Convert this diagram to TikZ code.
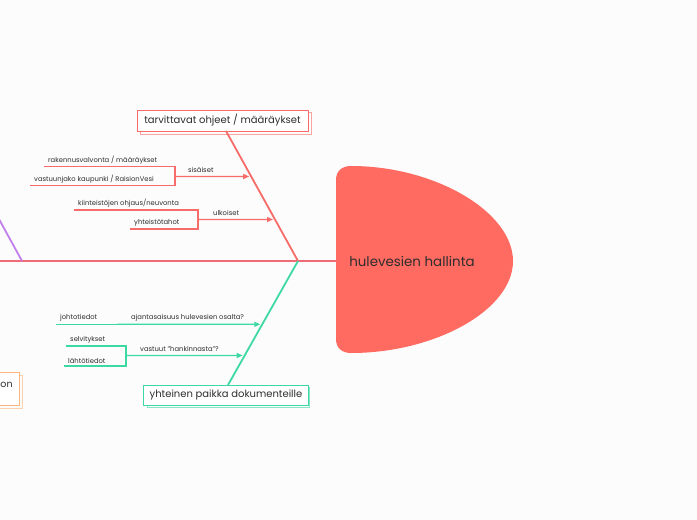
\documentclass[tikz,border=0pt]{standalone}
\usepackage{fontspec}
\setmainfont{Poppins}
\usetikzlibrary{arrows.meta,calc}
\definecolor{bg}{HTML}{FCFCFC}
\definecolor{headred}{HTML}{FF6A61}
\definecolor{spinecol}{HTML}{EF6B76}
\definecolor{redline}{HTML}{F76C68}
\definecolor{greenline}{HTML}{3DD9A2}
\definecolor{purpleline}{HTML}{C07FEA}
\definecolor{orangeline}{HTML}{FFB47E}
\definecolor{txt}{HTML}{2E2E2E}
\tikzset{
  boxnode/.style={draw=#1, line width=1pt, fill=white, text=txt, font=\fontsize{10}{12}\selectfont,
    minimum height=21pt, inner xsep=6pt, inner ysep=0pt, text height=7pt, text depth=2pt},
  shadowbox/.style={draw=#1, line width=1pt, opacity=0.6},
  subtext/.style={text=txt, font=\fontsize{6.8}{8}\selectfont, inner xsep=4pt, inner ysep=2.5pt, anchor=south west},
  lbltext/.style={text=txt, font=\fontsize{6.8}{8}\selectfont, inner sep=0pt, anchor=base west},
  subline/.style={draw=#1, line width=1.3pt},
  arr/.style={draw=#1, line width=1.3pt, -{Triangle[length=6pt,width=5pt]}, shorten >=2pt},
  bone/.style={draw=#1, line width=1.8pt},
}
\begin{document}
\begin{tikzpicture}[x=1pt,y=-1pt]
\fill[bg] (0,0) rectangle (697,520);
\useasboundingbox (0,0) rectangle (697,520);
\clip (0,0) rectangle (697,520);

% head
\fill[headred] (336,180) .. controls (336,171) and (342,166) .. (351,166)
  .. controls (435,166) and (513,212) .. (513,261)
  .. controls (513,310) and (435,353) .. (351,353)
  .. controls (342,353) and (336,348) .. (336,339) -- cycle;
\node[text=txt, font=\fontsize{13.4}{15}\selectfont, anchor=base] (head) at (412,266) {hulevesien hallinta};

% spine
\coordinate (s0) at (0,261);
\coordinate (headL) at (337,261);
\coordinate (j) at (298,261);
\coordinate (jp) at (22,261);
\draw[spinecol, line width=2.2pt] (s0) -- (headL);

% top category box
\draw[shadowbox=redline] (140.5,112.5) rectangle (311,134);
\node[boxnode=redline, minimum width=171pt] (topbox) at (222.5,120.5) {tarvittavat ohjeet / määräykset};
\coordinate (tb) at (226,131);
\draw[bone=redline] (j) -- (tb);

% bottom category box
\draw[shadowbox=greenline] (147.5,387.5) rectangle (309.5,407.5);
\node[boxnode=greenline, minimum width=162pt, minimum height=20pt] (botbox) at (226,395) {yhteinen paikka dokumenteille};
\coordinate (bb) at (228,385);
\draw[bone=greenline] (j) -- (bb);

% purple bone
\coordinate (pt) at (-6,210);
\draw[bone=purpleline] (jp) -- (pt);

% orange box (cut off)
\draw[shadowbox=orangeline] (-10,375) rectangle (22,408.5);
\draw[orangeline, line width=1pt, fill=white] (-10,372.5) rectangle (19.5,405.5);
\node[text=txt, font=\fontsize{9.5}{11}\selectfont, anchor=base west, inner sep=0pt] (orangetxt) at (0.3,387.5) {on};

% --- sisäiset
\coordinate (b1) at (175,176.5);
\coordinate (b1r) at (400,176.5);
\node[subtext] (a1) at (44,166.7) {rakennusvalvonta / määräykset};
\node[subtext] (a2) at (30,185.7) {vastuunjako kaupunki / RaisionVesi};
\draw[subline=redline] (a1.south west) -- (a1.south west -| b1) -- (a2.south west -| b1) -- (a2.south west);
\draw[arr=redline] (b1) -- (intersection of j--tb and b1--b1r);
\node[lbltext] (l1) at (188,172) {sisäiset};

% --- ulkoiset
\coordinate (b2) at (198,219.5);
\coordinate (b2r) at (400,219.5);
\node[subtext] (a3) at (74,210) {kiinteistöjen ohjaus/neuvonta};
\node[subtext] (a4) at (130,229) {yhteistötahot};
\draw[subline=redline] (a3.south west) -- (a3.south west -| b2) -- (a4.south west -| b2) -- (a4.south west);
\draw[arr=redline] (b2) -- (intersection of j--tb and b2--b2r);
\node[lbltext] (l2) at (213,215) {ulkoiset};

% --- ajantasaisuus
\coordinate (b3) at (117,324.3);
\coordinate (b3r) at (400,324.3);
\node[subtext] (a5) at (56,324.3) {johtotiedot};
\draw[subline=greenline] (a5.south west) -- (b3);
\draw[arr=greenline] (b3) -- (intersection of j--bb and b3--b3r);
\node[lbltext] (l3) at (131,319) {ajantasaisuus hulevesien osalta?};

% --- vastuut
\coordinate (b4) at (126,355.5);
\coordinate (b4r) at (400,355.5);
\node[subtext] (a6) at (66,346) {selvitykset};
\node[subtext] (a7) at (64,366) {lähtötiedot};
\draw[subline=greenline] (a6.south west) -- (a6.south west -| b4) -- (a7.south west -| b4) -- (a7.south west);
\draw[arr=greenline] (b4) -- (intersection of j--bb and b4--b4r);
\node[lbltext] (l4) at (140,351) {vastuut "hankinnasta"?};
\end{tikzpicture}
\end{document}
